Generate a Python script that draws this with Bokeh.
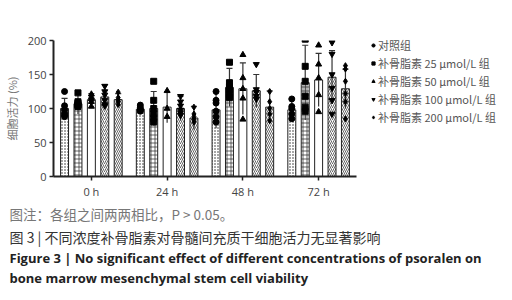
from bokeh.plotting import figure
from bokeh.models import Range1d, FixedTicker, Legend, LegendItem, Title
from bokeh.embed import file_html
from bokeh.resources import INLINE

times = ["0 h", "24 h", "48 h", "72 h"]
groups = ["对照组", "补骨脂素 25 μmol/L 组", "补骨脂素 50 μmol/L 组",
          "补骨脂素 100 μmol/L 组", "补骨脂素 200 μmol/L 组"]

ctrl_mean = [100, 99, 98, 98]
ctrl_sd = [15, 4, 27, 16]
p25_mean = [107, 100, 131, 138]
p25_sd = [15, 25, 28, 55]
p50_mean = [113, 102, 129, 142]
p50_sd = [9, 23, 38, 39]
p100_mean = [117, 100, 126, 146]
p100_sd = [18, 18, 24, 39]
p200_mean = [113, 86, 102, 129]
p200_sd = [9, 17, 24, 29]

ctrl_pts = [[125, 104, 98, 93, 90, 88], [105, 101, 99, 97, 96], [125, 112, 108, 96, 88, 80], [114, 103, 100, 92, 85]]
p25_pts = [[123, 110, 108, 106, 105, 103], [140, 112, 100, 92, 85, 80], [168, 138, 132, 128, 120, 116], [202, 162, 140, 118, 102, 96]]
p50_pts = [[121, 117, 114, 110, 103], [126, 100, 88], [179, 145, 129, 115, 84], [193, 165, 145, 120, 95]]
p100_pts = [[133, 125, 120, 112, 106, 104], [118, 110, 104, 98, 94, 90], [165, 128, 124, 118, 114], [197, 180, 150, 130, 112, 92]]
p200_pts = [[124, 116, 113, 110, 106], [102, 92, 88, 84, 80], [125, 110, 100, 92, 82], [163, 158, 140, 122, 110, 85]]

y_ticks = [0, 50, 100, 150, 200]

caption_lines = [
    "图注：各组之间两两相比，P > 0.05。",
    "图 3 | 不同浓度补骨脂素对骨髓间充质干细胞活力无显著影响",
    "Figure 3  |  No significant effect of different concentrations of psoralen on",
    "bone marrow mesenchymal stem cell viability",
]

means = [ctrl_mean, p25_mean, p50_mean, p100_mean, p200_mean]
sds = [ctrl_sd, p25_sd, p50_sd, p100_sd, p200_sd]
pts = [ctrl_pts, p25_pts, p50_pts, p100_pts, p200_pts]
hatches = ["dot", "cross", "blank", "right_diagonal_line", "left_diagonal_line"]
markers = ["circle", "square", "triangle", "inverted_triangle", "diamond"]

p = figure(frame_width=303, frame_height=136, output_backend="svg", toolbar_location=None,
           x_range=Range1d(-0.5, 3.5), y_range=Range1d(0, 200),
           min_border_left=52, min_border_right=157, min_border_top=40, min_border_bottom=124)
p.outline_line_color = None
p.xgrid.visible = False
p.ygrid.visible = False

offset = 0.177
bw = 0.105
legend_items = []
for gi in range(5):
    xs = [ti + (gi - 2) * offset for ti in range(4)]
    p.vbar(x=xs, top=means[gi], bottom=0, width=bw, fill_color="white",
           line_color="#222222", line_width=1, hatch_pattern=hatches[gi],
           hatch_color="#222222", hatch_scale=4 if gi != 0 else 3,
           hatch_weight=0.7)
    lo = [m - s for m, s in zip(means[gi], sds[gi])]
    hi = [m + s for m, s in zip(means[gi], sds[gi])]
    p.segment(x0=xs, x1=xs, y0=lo, y1=hi, line_color="#333333", line_width=1.2)
    p.segment(x0=[x - 0.04 for x in xs], x1=[x + 0.04 for x in xs], y0=hi, y1=hi,
              line_color="#333333", line_width=1.2)
    px, py = [], []
    for ti in range(4):
        for v in pts[gi][ti]:
            px.append(xs[ti])
            py.append(v)
    r = p.scatter(x=px, y=py, marker=markers[gi], size=6, fill_color="black",
                  line_color="black")
    legend_items.append(LegendItem(label=groups[gi], renderers=[r]))

legend = Legend(items=legend_items, location=(13, 51), padding=0, margin=0,
                spacing=2, glyph_height=14, glyph_width=8, label_height=14,
                label_standoff=1, border_line_color=None, background_fill_alpha=0,
                label_text_font="Noto Sans CJK SC", label_text_font_size="11px",
                label_text_color="#555555", label_text_baseline="middle")
p.add_layout(legend, "right")

p.xaxis.ticker = FixedTicker(ticks=[0, 1, 2, 3])
p.xaxis.major_label_overrides = {i: t for i, t in enumerate(times)}
p.xaxis.minor_tick_line_color = None
p.yaxis.ticker = FixedTicker(ticks=y_ticks)
p.yaxis.minor_tick_line_color = None
for ax in (p.xaxis, p.yaxis):
    ax.axis_line_width = 2
    ax.axis_line_color = "#222222"
    ax.major_tick_line_color = "#222222"
    ax.major_tick_line_width = 1.5
    ax.major_tick_in = 0
    ax.major_tick_out = 4
    ax.major_label_text_font = "Open Sans"
    ax.major_label_text_font_size = "11px"
    ax.major_label_text_color = "#444444"
    ax.major_label_standoff = 3
p.yaxis.axis_label = "细胞活力 (%)"
p.yaxis.axis_label_text_font = "Noto Sans CJK SC"
p.yaxis.axis_label_text_font_style = "normal"
p.yaxis.axis_label_text_font_size = "11px"
p.yaxis.axis_label_text_color = "#777777"
p.yaxis.axis_label_standoff = 5

cap_styles = [
    ("Noto Sans CJK SC", "13.5px", "#777777", "normal", 1),
    ("Noto Sans CJK SC", "14px", "#333333", "normal", 0),
    ("Open Sans", "13px", "#222222", "bold", 0),
    ("Open Sans", "13px", "#222222", "bold", 0),
]
for line, (font, size, color, style, so) in zip(caption_lines, cap_styles):
    p.add_layout(Title(text=line, align="left", offset=-44, standoff=so,
                       text_font=font, text_font_size=size, text_color=color,
                       text_font_style=style), "below")

open("out.html", "w").write(file_html(p, INLINE))
